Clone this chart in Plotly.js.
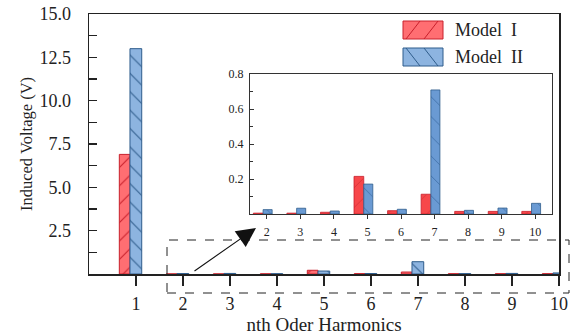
<!DOCTYPE html>
<html>
<head>
<meta charset="utf-8">
<script src="https://cdn.plot.ly/plotly-3.0.1.min.js"></script>
<style>html,body{margin:0;padding:0;background:#fff;}#chart{width:575px;height:336px;}</style>
</head>
<body>
<div id="chart"></div>
<script>
// Data
var harmonics = [1, 2, 3, 4, 5, 6, 7, 8, 9, 10];
var modelI  = [6.9, 0.005, 0.005, 0.01, 0.215, 0.019, 0.113, 0.015, 0.015, 0.015];
var modelII = [13.0, 0.025, 0.033, 0.017, 0.171, 0.027, 0.709, 0.021, 0.034, 0.061];
var seriesNames = ['Model I', 'Model II'];
var mainYTicks = [2.5, 5, 7.5, 10, 12.5, 15];
var insetYTicks = [0.2, 0.4, 0.6, 0.8];
var insetHarmonics = harmonics.slice(1);
var insetModelI = modelI.slice(1);
var insetModelII = modelII.slice(1);

var FONT = 'Liberation Serif';
var redFill = '#ff6e72', redLine = '#c8202c';
var blueFill = '#8db4e0', blueLine = '#2f5d8c';
var redFill2 = '#f7474a', blueFill2 = '#6a9ad3';

var traces = [
  {type:'bar', x: harmonics, y: modelI, name: seriesNames[0], xaxis:'x', yaxis:'y',
   offset:-0.355, width:0.227, showlegend:false,
   marker:{color:redFill, line:{color:redLine, width:1},
           pattern:{shape:'/', fgcolor:redLine, bgcolor:redFill, fillmode:'replace', size:13, solidity:0.08}}},
  {type:'bar', x: harmonics, y: modelII, name: seriesNames[1], xaxis:'x', yaxis:'y',
   offset:-0.128, width:0.25, showlegend:false,
   marker:{color:blueFill, line:{color:blueLine, width:1},
           pattern:{shape:'\\', fgcolor:blueLine, bgcolor:blueFill, fillmode:'replace', size:13, solidity:0.08}}},
  {type:'bar', x: insetHarmonics, y: insetModelI, name: seriesNames[0], xaxis:'x2', yaxis:'y2',
   offset:-0.40, width:0.29, showlegend:false,
   marker:{color:redFill2, line:{color:redLine, width:0.8},
           pattern:{shape:'/', fgcolor:'#d83036', bgcolor:redFill2, fillmode:'replace', size:14, solidity:0.06}}},
  {type:'bar', x: insetHarmonics, y: insetModelII, name: seriesNames[1], xaxis:'x2', yaxis:'y2',
   offset:-0.11, width:0.27, showlegend:false,
   marker:{color:blueFill2, line:{color:blueLine, width:0.8},
           pattern:{shape:'\\', fgcolor:'#3f6ea6', bgcolor:blueFill2, fillmode:'replace', size:14, solidity:0.06}}}
];

var L = 89, R = 16, T = 14, B = 62, W = 575, H = 336;
var pw = W - L - R, ph = H - T - B;
function px(x){ return (x - L) / pw; }
function py(y){ return (T + ph - y) / ph; }

var shapes = [
  {type:'rect', xref:'paper', yref:'paper', x0:px(167), x1:px(569), y0:py(293), y1:py(240),
   line:{color:'#222', width:1, dash:'dash'}, fillcolor:'rgba(0,0,0,0)'},
  {type:'rect', xref:'paper', yref:'paper', x0:px(403), x1:px(443), y0:py(39), y1:py(21),
   line:{color:redLine, width:1}, fillcolor:redFill},
  {type:'line', xref:'paper', yref:'paper', x0:px(406), x1:px(420), y0:py(39), y1:py(21),
   line:{color:redLine, width:1}},
  {type:'line', xref:'paper', yref:'paper', x0:px(424), x1:px(438), y0:py(39), y1:py(21),
   line:{color:redLine, width:1}},
  {type:'rect', xref:'paper', yref:'paper', x0:px(403), x1:px(443), y0:py(66), y1:py(48),
   line:{color:blueLine, width:1}, fillcolor:blueFill},
  {type:'line', xref:'paper', yref:'paper', x0:px(406), x1:px(420), y0:py(48), y1:py(66),
   line:{color:blueLine, width:1}},
  {type:'line', xref:'paper', yref:'paper', x0:px(424), x1:px(438), y0:py(48), y1:py(66),
   line:{color:blueLine, width:1}}
];

var annotations = [
  {xref:'paper', yref:'paper', x:px(453), y:py(30), xanchor:'left', yanchor:'middle',
   text:'Model  I', showarrow:false, font:{family:FONT, size:18, color:'#222'}},
  {xref:'paper', yref:'paper', x:px(453), y:py(57), xanchor:'left', yanchor:'middle',
   text:'Model  II', showarrow:false, font:{family:FONT, size:18, color:'#222'}},
  {xref:'paper', yref:'paper', x:px(256), y:py(228), ax:-63, ay:44, text:'',
   showarrow:true, arrowhead:2, arrowsize:3.5, arrowwidth:1.1, arrowcolor:'#111'}
];

var layout = {
  width: W, height: H,
  margin:{l:L, r:R, t:T, b:B, pad:0},
  paper_bgcolor:'#fff', plot_bgcolor:'#fff',
  barmode:'overlay',
  font:{family:FONT, color:'#222', size:16},
  xaxis:{range:[0,10], tickvals: harmonics, ticks:'outside', ticklen:10, tickwidth:1.5,
         tickcolor:'#222', showline:true, linecolor:'#222', linewidth:1.5, mirror:true,
         showgrid:false, zeroline:false, ticklabelstandoff:3,
         tickfont:{family:FONT, size:18, color:'#222'},
         title:{text:'nth Oder Harmonics', font:{family:FONT, size:19, color:'#222'}, standoff:1}},
  yaxis:{range:[0,15], tickvals: mainYTicks, tickformat:'.1f', ticks:'inside', ticklen:8, tickwidth:1.5,
         tickcolor:'#222', showline:true, linecolor:'#222', linewidth:1.5, mirror:true,
         showgrid:false, zeroline:false, ticklabelstandoff:13,
         tickfont:{family:FONT, size:18, color:'#222'},
         minor:{tickmode:'linear', tick0:0, dtick:1.25, ticks:'inside', ticklen:8, tickcolor:'#222', tickwidth:1.2, showgrid:false},
         title:{text:'Induced Voltage (V)', font:{family:FONT, size:16.5, color:'#222'}, standoff:2}},
  xaxis2:{domain:[px(250), px(552)], anchor:'y2', range:[1.5,10.5], tickvals: insetHarmonics,
          ticks:'outside', ticklen:4, tickwidth:1, tickcolor:'#333',
          showline:true, linecolor:'#333', linewidth:1.2, mirror:true, showgrid:false, zeroline:false,
          ticklabelstandoff:2, tickfont:{family:FONT, size:12, color:'#222'}},
  yaxis2:{domain:[py(214), py(74)], anchor:'x2', range:[0,0.8], tickvals: insetYTicks,
          ticks:'inside', ticklen:4, tickwidth:1, tickcolor:'#333',
          showline:true, linecolor:'#333', linewidth:1.2, mirror:true, showgrid:false, zeroline:false,
          ticklabelstandoff:3, tickfont:{family:FONT, size:12, color:'#222'},
          minor:{tickmode:'linear', tick0:0, dtick:0.1, ticks:'inside', ticklen:3, tickcolor:'#333', showgrid:false}},
  shapes: shapes,
  annotations: annotations
};

Plotly.newPlot('chart', traces, layout, {displayModeBar:false, staticPlot:true});
</script>
</body>
</html>
